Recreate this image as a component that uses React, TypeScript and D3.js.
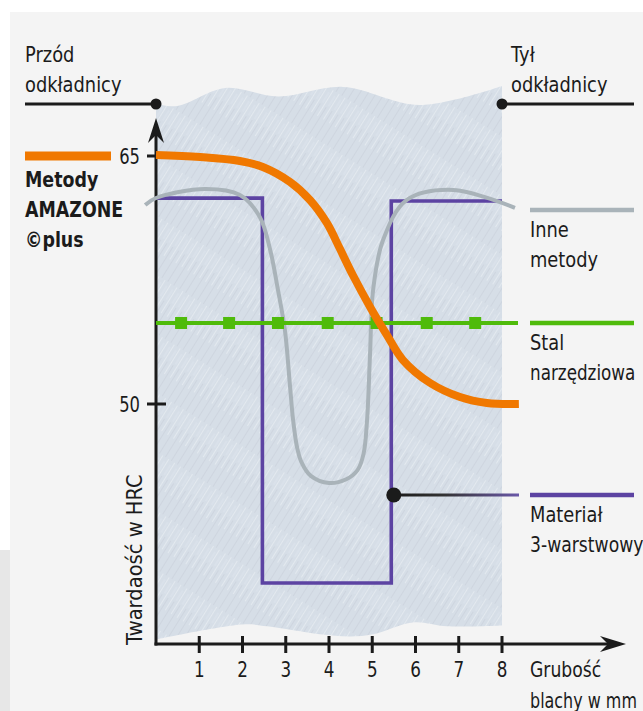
import React from 'react';
import * as d3 from 'd3';

const W = 643;
const H = 711;

// axis ticks
const xTicks = [1, 2, 3, 4, 5, 6, 7, 8];
const yTicks = [50, 65];

// Metody AMAZONE ©plus (orange)
const orangeMM = [0, 1.02, 1.94, 2.47, 3.1, 3.56, 3.95, 4.25, 4.55, 4.95, 5.34, 5.71, 6.34, 7.03, 7.65, 8.39];
const orangeHRC = [65.06, 64.94, 64.7, 64.34, 63.43, 62.34, 60.95, 59.4, 57.8, 55.87, 54.17, 52.66, 51.27, 50.42, 50.06, 50.0];

// Inne metody (gray)
const grayMM = [-0.25, 0, 1.13, 1.94, 2.4, 2.64, 2.82, 2.98, 3.1, 3.17, 3.26, 3.36, 3.58, 4.0, 4.4, 4.66, 4.8, 4.88, 4.95, 5.02, 5.25, 5.8, 6.87, 8.3];
const grayHRC = [62.04, 62.46, 63.0, 62.64, 61.31, 59.32, 56.9, 54.48, 51.03, 49.03, 47.4, 46.5, 45.65, 45.22, 45.45, 46.0, 47.0, 49.03, 53.09, 56.9, 59.92, 62.34, 62.95, 61.86];

// Stal narzędziowa (green)
const greenHRC = 54.9;
const greenRangeMM = [0, 8.37];
const greenMarkersMM = [0.58, 1.69, 2.82, 3.97, 5.1, 6.26, 7.38];

// Materiał 3-warstwowy (purple)
const purpleMM = [0, 2.46, 2.46, 5.44, 5.44, 8.0];
const purpleHRC = [62.45, 62.45, 39.17, 39.17, 62.28, 62.28];

// shaded sheet outline (decorative wavy edges), in mm / HRC
const sheetTopMM = [0, 0.49, 1.6, 2.83, 4.32, 6.1, 8.0];
const sheetTopHRC = [68.15, 68.03, 69.12, 68.6, 69.18, 68.09, 69.24];
const sheetBotMM = [0, 2.01, 2.57, 3.79, 4.5, 5.02, 5.94, 6.73, 8.0];
const sheetBotHRC = [35.76, 36.67, 36.55, 36.07, 35.94, 36.07, 36.79, 36.55, 36.61];

const FONT = "'DejaVu Sans', sans-serif";
const INK = '#1b1b1b';
const ORANGE = '#f07800';
const GRAY = '#a9b3b9';
const GREEN = '#4fbb0b';
const PURPLE = '#5c43a2';

export default function App() {
  const x = d3.scaleLinear().domain([0, 8]).range([156, 502]);
  const y = d3.scaleLinear().domain([50, 65]).range([404, 156]);

  const pts = (xs: number[], ys: number[]) => xs.map((v, i) => [v, ys[i]] as [number, number]);

  const smooth = d3
    .line<[number, number]>()
    .x((d) => x(d[0]))
    .y((d) => y(d[1]))
    .curve(d3.curveCatmullRom.alpha(0.5));
  const straight = d3
    .line<[number, number]>()
    .x((d) => x(d[0]))
    .y((d) => y(d[1]));

  const top = pts(sheetTopMM, sheetTopHRC);
  const bot = pts(sheetBotMM, sheetBotHRC).reverse();
  const topPath = smooth(top) as string;
  const botPath = (smooth(bot) as string).replace(/^M/, 'L');
  const sheetPath = topPath + botPath + 'Z';

  const x0 = x(0);
  const yBase = 644;
  const yTop = 118;
  const xEnd = 626;

  const text = (
    s: string,
    tx: number,
    ty: number,
    opts: { sx?: number; rot?: number; anchor?: string; bold?: boolean } = {}
  ) => {
    const sx = opts.sx ?? 0.85;
    const rot = opts.rot ? ` rotate(${opts.rot})` : '';
    return (
      <text
        x={0}
        y={0}
        transform={`translate(${tx},${ty})${rot} scale(${sx},1)`}
        fontFamily={FONT}
        fontSize={21}
        fontWeight={opts.bold ? 'bold' : 'normal'}
        textAnchor={opts.anchor ?? 'start'}
        fill={INK}
      >
        {s}
      </text>
    );
  };

  const legendX1 = 530;
  const legendX2 = 634;
  const topLineY = 104;
  const connX = x(5.44) + 2.5;

  return (
    <svg
      width={W}
      height={H}
      viewBox={`0 0 ${W} ${H}`}
      style={{ position: 'absolute', left: 0, top: 0, display: 'block' }}
    >
      <defs>
        <pattern id="streaks" width="7" height="50" patternUnits="userSpaceOnUse" patternTransform="rotate(32)">
          <rect width="7" height="50" fill="#d6dee7" />
          <line x1="1.5" y1="0" x2="1.5" y2="30" stroke="#e3e9ef" strokeWidth="1" />
          <line x1="4.5" y1="18" x2="4.5" y2="50" stroke="#cbd3dd" strokeWidth="0.8" />
          <line x1="6" y1="4" x2="6" y2="16" stroke="#e0e6ed" strokeWidth="0.8" />
        </pattern>
        <linearGradient id="conn" gradientUnits="userSpaceOnUse" x1={connX} x2={519} y1={495} y2={495}>
          <stop offset="0" stopColor="#1b1b1b" />
          <stop offset="0.4" stopColor="#333333" />
          <stop offset="1" stopColor="#6a58a8" />
        </linearGradient>
      </defs>

      {/* background */}
      <rect x={0} y={0} width={W} height={H} fill="#ffffff" />
      <rect x={10} y={12} width={W - 10} height={H - 12} fill="#f4f4f4" />
      <rect x={0} y={550} width={10} height={H - 550} fill="#e7e7e7" />

      {/* sheet */}
      <path d={sheetPath} fill="url(#streaks)" />

      {/* top labels and leader lines */}
      {text('Przód', 25, 62)}
      {text('odkładnicy', 25, 92)}
      <line x1={25} x2={x0} y1={topLineY} y2={topLineY} stroke={INK} strokeWidth={3} />
      <circle cx={x0} cy={topLineY} r={5.5} fill={INK} />
      {text('Tył', 511, 62)}
      {text('odkładnicy', 511, 92)}
      <line x1={x(8)} x2={legendX2} y1={topLineY} y2={topLineY} stroke={INK} strokeWidth={3} />
      <circle cx={x(8)} cy={topLineY} r={5.5} fill={INK} />

      {/* axes */}
      <line x1={x0} x2={x0} y1={yBase + 1.5} y2={yTop + 14} stroke={INK} strokeWidth={3} />
      <path
        d={`M${x0},${yTop} L${x0 + 8},${yTop + 25} L${x0},${yTop + 17} L${x0 - 8},${yTop + 25} Z`}
        fill={INK}
      />
      <line x1={x0 - 1.5} x2={xEnd - 14} y1={yBase} y2={yBase} stroke={INK} strokeWidth={3} />
      <path
        d={`M${xEnd},${yBase} L${xEnd - 26},${yBase - 8} L${xEnd - 18},${yBase} L${xEnd - 26},${yBase + 8} Z`}
        fill={INK}
      />
      {xTicks.map((t) => (
        <g key={t}>
          <line x1={x(t)} x2={x(t)} y1={yBase - 8} y2={yBase + 9} stroke={INK} strokeWidth={3} />
          {text(String(t), x(t), 677, { anchor: 'middle', sx: 0.8 })}
        </g>
      ))}
      {yTicks.map((t) => (
        <g key={t}>
          <line x1={x0 - 9} x2={x0 + 10} y1={y(t)} y2={y(t)} stroke={INK} strokeWidth={3} />
          {text(String(t), x0 - 16, y(t) + 8, { anchor: 'end', sx: 0.78 })}
        </g>
      ))}
      {text('Twardaość w HRC', 142, 645, { rot: -90, sx: 0.93 })}
      {text('Grubość', 530, 677, { sx: 0.82 })}
      {text('blachy w mm', 530, 708, { sx: 0.76 })}

      {/* purple */}
      <path
        d={straight(pts(purpleMM, purpleHRC)) as string}
        fill="none"
        stroke={PURPLE}
        strokeWidth={3.6}
        strokeLinejoin="miter"
      />

      {/* gray */}
      <path d={smooth(pts(grayMM, grayHRC)) as string} fill="none" stroke={GRAY} strokeWidth={4} />

      {/* green */}
      <line
        x1={x(greenRangeMM[0])}
        x2={x(greenRangeMM[1])}
        y1={y(greenHRC)}
        y2={y(greenHRC)}
        stroke={GREEN}
        strokeWidth={4}
      />
      {greenMarkersMM.map((m) => (
        <rect key={m} x={x(m) - 6} y={y(greenHRC) - 6} width={12} height={12} fill={GREEN} />
      ))}

      {/* orange */}
      <path d={smooth(pts(orangeMM, orangeHRC)) as string} fill="none" stroke={ORANGE} strokeWidth={8} />

      {/* connector to purple legend */}
      <line x1={connX} x2={519} y1={495} y2={495} stroke="url(#conn)" strokeWidth={3} />
      <circle cx={connX} cy={495} r={7.5} fill={INK} />

      {/* left legend */}
      <line x1={25} x2={111} y1={y(65)} y2={y(65)} stroke={ORANGE} strokeWidth={9} />
      {text('Metody', 25, 187, { bold: true, sx: 0.83 })}
      {text('AMAZONE', 25, 217, { bold: true, sx: 0.83 })}
      {text('©plus', 25, 247, { bold: true, sx: 0.83 })}

      {/* right legends */}
      <line x1={legendX1} x2={legendX2} y1={210} y2={210} stroke={GRAY} strokeWidth={4.3} />
      {text('Inne', 530, 237)}
      {text('metody', 530, 267)}
      <line x1={legendX1} x2={legendX2} y1={y(greenHRC)} y2={y(greenHRC)} stroke={GREEN} strokeWidth={4.3} />
      {text('Stal', 530, 350)}
      {text('narzędziowa', 530, 380, { sx: 0.8 })}
      <line x1={legendX1} x2={legendX2} y1={495} y2={495} stroke={PURPLE} strokeWidth={4.5} />
      {text('Materiał', 530, 522)}
      {text('3-warstwowy', 530, 552, { sx: 0.82 })}
    </svg>
  );
}
